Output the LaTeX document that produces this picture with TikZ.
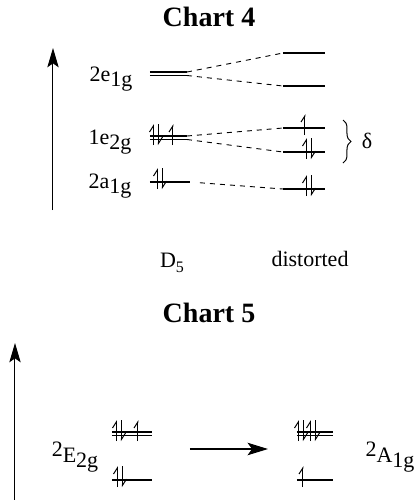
\documentclass[tikz,border=0pt]{standalone}
\usepackage{fontspec}
\setmainfont{Liberation Serif}
\usetikzlibrary{arrows.meta,positioning,calc,decorations.pathreplacing}
\newcommand{\lowsub}[1]{\raisebox{-0.5ex}{#1}}
\newcommand{\highsup}[1]{\raisebox{0.65ex}{#1}}
\tikzset{
  charttitle/.style={font=\fontsize{14}{16}\selectfont\bfseries, inner sep=1pt},
  lbl/.style={font=\fontsize{11}{13}\selectfont, inner sep=1pt},
  level/.style={line width=0.6pt},
  corr/.style={dash pattern=on 2.5pt off 2.5pt, line width=0.45pt},
  axis/.style={-{Stealth[length=3.4mm, width=2mm, inset=0.7mm]}, line width=0.5pt},
  rxn/.style={-{Stealth[length=3.6mm, width=2.2mm, inset=0.8mm]}, line width=0.6pt},
  spin/.style={line width=0.5pt, -{Straight Barb[harpoon, length=1.1mm, width=1.4mm]}},
  upspin/.pic={\draw[spin] (0,7) -- (0,-14);},
  downspin/.pic={\draw[spin] (0,-14) -- (0,7);},
  spinpair/.pic={\draw[spin] (-2.5,7) -- (-2.5,-14); \draw[spin] (2.5,-14) -- (2.5,7);}
}
\begin{document}
\begin{tikzpicture}[x=0.5pt, y=-0.5pt]
  \useasboundingbox (0,0) rectangle (419,500);
  % Chart 4
  \node[charttitle] (chart4) at (209,17) {Chart 4};
  \coordinate (axis4-bot) at (53,210);
  \coordinate (axis4-top) at (53,48);
  \draw[axis] (axis4-bot) -- (axis4-top);

  \node[lbl] (e1g-lbl) at (111,79) {2e\lowsub{1g}};
  \draw[level] (150,72) -- (187,72) coordinate (e1g-a);
  \draw[level] (150,75.5) -- (187,75.5) coordinate (e1g-b);
  \draw[level] (283,53) coordinate (e1g-hi) -- (325,53);
  \draw[level] (283,86) coordinate (e1g-lo) -- (325,86);
  \draw[corr] (e1g-a) -- (e1g-hi);
  \draw[corr] (e1g-b) -- (e1g-lo);

  \node[lbl] (e2g-lbl) at (110,142) {1e\lowsub{2g}};
  \draw[level] (150,136) -- (187,136) coordinate (e2g-a);
  \draw[level] (150,139.5) -- (187,139.5) coordinate (e2g-b);
  \pic at (156,138) {spinpair};
  \pic at (173,138) {upspin};
  \draw[level] (283,128) coordinate (e2g-hi) -- (325,128);
  \draw[level] (283,152) coordinate (e2g-lo) -- (325,152);
  \pic at (305,128) {upspin};
  \pic at (309,152) {spinpair};
  \draw[corr] (e2g-a) -- (e2g-hi);
  \draw[corr] (e2g-b) -- (e2g-lo);
  \draw[decorate, decoration={brace, amplitude=4pt}, line width=0.5pt] (343,120) -- (343,163);
  \node[lbl] (delta) at (367,141) {δ};

  \node[lbl] (a1g-lbl) at (110,186) {2a\lowsub{1g}};
  \draw[level] (150,182) -- (190,182) coordinate (a1g-l);
  \pic at (160,182) {spinpair};
  \draw[level] (283,189) coordinate (a1g-r) -- (325,189);
  \pic at (309,189) {spinpair};
  \draw[corr, shorten <=5pt] (a1g-l) -- (a1g-r);

  \node[lbl] (d5) at (172,263) {D\lowsub{\footnotesize 5}};
  \node[lbl] (distorted) at (310,259) {distorted};

  % Chart 5
  \node[charttitle] (chart5) at (209,313) {Chart 5};
  \coordinate (axis5-bot) at (15,500);
  \coordinate (axis5-top) at (15,343);
  \draw[axis] (axis5-bot) -- (axis5-top);

  \node[lbl] (E2g) at (75,457) {\highsup{2}E\lowsub{2g}};
  \draw[level] (112,432) -- (152,432);
  \draw[level] (112,435.5) -- (152,435.5);
  \pic at (119,434) {spinpair};
  \pic at (138,434) {upspin};
  \draw[level] (112,480) -- (152,480);
  \pic at (120,480) {spinpair};

  \coordinate (rxn-from) at (190,449);
  \coordinate (rxn-to) at (268,449);
  \draw[rxn] (rxn-from) -- (rxn-to);

  \draw[level] (297,432) -- (333,432);
  \draw[level] (297,435.5) -- (333,435.5);
  \pic at (301,434) {spinpair};
  \pic at (313,434) {spinpair};
  \draw[level] (297,480) -- (333,480);
  \pic at (303,480) {upspin};
  \node[lbl] (A1g) at (390,457) {\highsup{2}A\lowsub{1g}};
\end{tikzpicture}
\end{document}
